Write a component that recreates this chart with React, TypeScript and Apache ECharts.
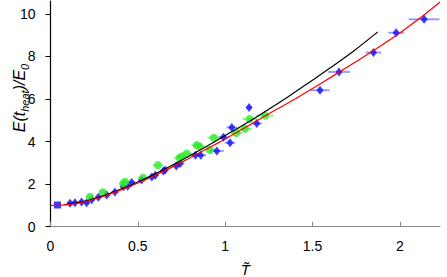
import React, { useEffect, useRef } from "react";
import * as echarts from "echarts";

// Red fitted curve
const redX = [0, 0.1, 0.2, 0.3, 0.4, 0.5, 0.6, 0.75, 0.9, 1.0, 1.25, 1.4, 1.55, 1.7, 1.85, 2.0, 2.14, 2.23];
const redY = [1.0, 1.04, 1.18, 1.42, 1.72, 2.05, 2.42, 3.02, 3.68, 4.12, 5.3, 6.0, 6.74, 7.5, 8.28, 9.1, 9.95, 10.55];

// Black curve
const blackX = [0.08, 0.2, 0.3, 0.4, 0.5, 0.6, 0.75, 0.9, 1.0, 1.15, 1.25, 1.35, 1.5, 1.6, 1.74, 1.874];
const blackY = [1.03, 1.2, 1.45, 1.76, 2.1, 2.48, 3.12, 3.8, 4.28, 5.0, 5.52, 6.05, 6.88, 7.45, 8.28, 9.15];

// Blue diamonds: T, E, horizontal error
const blueX = [0.112, 0.14, 0.178, 0.207, 0.236, 0.274, 0.322, 0.369, 0.417, 0.442, 0.465, 0.522, 0.58, 0.6, 0.646, 0.656, 0.72, 0.742, 0.83, 0.86, 0.952, 0.99, 1.028, 1.038, 1.137, 1.181, 1.543, 1.652, 1.849, 1.979, 2.139];
const blueY = [1.1, 1.12, 1.16, 1.13, 1.27, 1.38, 1.49, 1.63, 1.88, 1.9, 2.08, 2.19, 2.34, 2.42, 2.62, 2.66, 2.85, 2.97, 3.36, 3.36, 3.56, 4.2, 3.94, 4.66, 5.6, 4.85, 6.41, 7.27, 8.18, 9.11, 9.74];
const blueErr = [0.015, 0.015, 0.015, 0.015, 0.015, 0.015, 0.02, 0.02, 0.02, 0.02, 0.02, 0.02, 0.02, 0.02, 0.02, 0.02, 0.025, 0.025, 0.03, 0.03, 0.04, 0.03, 0.03, 0.03, 0.015, 0.03, 0.055, 0.062, 0.044, 0.045, 0.088];

// Green circles
const greenX = [0.226, 0.3, 0.417, 0.427, 0.53, 0.615, 0.738, 0.751, 0.78, 0.837, 0.852, 0.913, 0.935, 1.064, 1.114, 1.14, 1.229];
const greenY = [1.41, 1.62, 2.03, 2.11, 2.3, 2.89, 3.22, 3.3, 3.44, 3.83, 3.78, 3.6, 4.18, 4.4, 4.6, 5.06, 5.22];
const greenErr = [0.02, 0.02, 0.025, 0.02, 0.03, 0.03, 0.03, 0.03, 0.03, 0.03, 0.035, 0.03, 0.035, 0.035, 0.04, 0.04, 0.048];

// Blue square
const squareX = [0.04];
const squareY = [1.02];

const xTicks = [0, 0.5, 1, 1.5, 2];
const yTicks = [0, 2, 4, 6, 8, 10];

const FONT = "Liberation Sans, Arial, sans-serif";

function errBars(color: string) {
  return (params: any, api: any) => {
    const x = api.value(0);
    const y = api.value(1);
    const e = api.value(2);
    const p1 = api.coord([x - e, y]);
    const p2 = api.coord([x + e, y]);
    return {
      type: "line",
      shape: { x1: p1[0], y1: p1[1], x2: p2[0], y2: p2[1] },
      style: { stroke: color, lineWidth: 2 },
    };
  };
}

export default function App() {
  const ref = useRef<HTMLDivElement>(null);
  useEffect(() => {
    if (!ref.current) return;
    const chart = echarts.init(ref.current, undefined, { renderer: "svg" });
    const zip2 = (a: number[], b: number[]) => a.map((v, i) => [v, b[i]]);
    const zip3 = (a: number[], b: number[], c: number[]) => a.map((v, i) => [v, b[i], c[i]]);
    chart.setOption({
      animation: false,
      grid: { left: 50.5, right: 7, top: 1, bottom: 50.3, containLabel: false, outerBoundsMode: "none" },
      graphic: [
        {
          type: "text",
          x: 19,
          y: 98,
          rotation: Math.PI / 2,
          style: {
            text: "{i|E}{n|(}{i|t}{s|heat}{n|)/}{i|E}{s|0}",
            align: "center",
            verticalAlign: "middle",
            fill: "#000",
            font: "16px " + FONT,
            rich: {
              i: { fontStyle: "italic", fontSize: 16, fontFamily: FONT, lineHeight: 22, verticalAlign: "middle", fill: "#000" },
              n: { fontStyle: "italic", fontSize: 16, fontFamily: FONT, lineHeight: 22, verticalAlign: "middle", fill: "#000" },
              s: { fontStyle: "italic", fontSize: 11, fontFamily: FONT, lineHeight: 10, verticalAlign: "bottom", fill: "#000" },
            },
          },
        },
      ],
      xAxis: {
        type: "value",
        min: 0,
        max: 2.23,
        interval: 0.5,
        splitLine: { show: false },
        axisLine: { onZero: false, lineStyle: { color: "#888888", width: 1.2 } },
        axisTick: { inside: true, length: 5, customValues: xTicks, lineStyle: { color: "#888888" } },
        axisLabel: {
          customValues: xTicks,
          color: "#000",
          fontSize: 14,
          fontFamily: FONT,
          margin: 12,
          formatter: (v: number) => String(v),
        },
        name: "T\u0303",
        nameLocation: "middle",
        nameGap: 35,
        nameMoveOverlap: false,
        nameTextStyle: { color: "#000", fontSize: 15, fontStyle: "italic", fontFamily: FONT },
      },
      yAxis: {
        type: "value",
        min: 0,
        max: 10.6,
        interval: 2,
        splitLine: { show: false },
        axisLine: { onZero: false, lineStyle: { color: "#000", width: 1.2 } },
        axisTick: { inside: false, length: 5, customValues: yTicks, lineStyle: { color: "#000" } },
        axisLabel: {
          customValues: yTicks,
          color: "#000",
          fontSize: 14,
          fontFamily: FONT,
          margin: 15,
          formatter: (v: number) => String(v),
        },
      },
      series: [
        {
          type: "custom",
          renderItem: errBars("rgba(70,70,255,0.55)"),
          data: zip3(blueX, blueY, blueErr),
          encode: { x: 0, y: 1 },
          z: 1,
        },
        {
          type: "custom",
          renderItem: errBars("rgba(60,235,60,0.6)"),
          data: zip3(greenX, greenY, greenErr),
          encode: { x: 0, y: 1 },
          z: 1,
        },
        {
          type: "scatter",
          symbol: "diamond",
          symbolSize: [7, 9],
          itemStyle: { color: "#0a0aff" },
          data: zip2(blueX, blueY),
          z: 2,
        },
        {
          type: "scatter",
          symbol: "circle",
          symbolSize: 8,
          itemStyle: { color: "#2ee82e" },
          data: zip2(greenX, greenY),
          z: 3,
        },
        {
          type: "scatter",
          symbol: "rect",
          symbolSize: 7,
          itemStyle: { color: "#0a0aff" },
          data: zip2(squareX, squareY),
          z: 3,
        },
        {
          type: "line",
          data: zip2(blackX, blackY),
          showSymbol: false,
          smooth: 0.3,
          lineStyle: { color: "#000", width: 1.2 },
          z: 4,
        },
        {
          type: "line",
          data: zip2(redX, redY),
          showSymbol: false,
          smooth: 0.3,
          lineStyle: { color: "#ff0000", width: 1.2 },
          z: 5,
        },
      ],
    });
    return () => chart.dispose();
  }, []);
  return (
    <div
      ref={ref}
      style={{ position: "fixed", left: 0, top: 0, width: 447, height: 277, background: "#fff" }}
    />
  );
}
